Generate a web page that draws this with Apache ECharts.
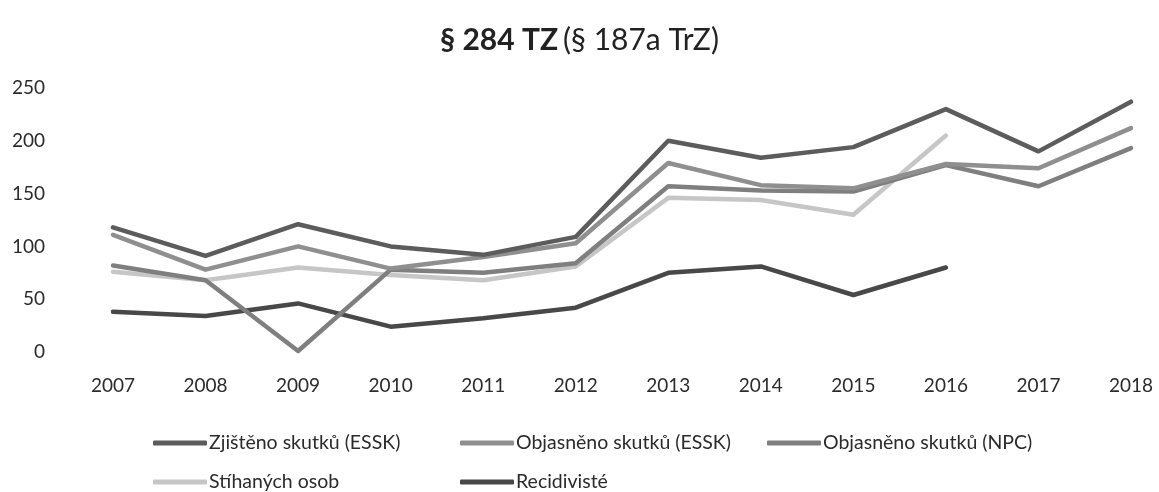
<!DOCTYPE html>
<html>
<head>
<meta charset="utf-8">
<title>§ 284 TZ</title>
<script src="https://cdn.jsdelivr.net/npm/echarts@6/dist/echarts.min.js"></script>
<style>
    html, body { margin: 0; padding: 0; background: #fff; }
    #chart { width: 1159px; height: 492px; }
</style>
</head>
<body>
<div id="chart"></div>
<script>
    // data
    var years = ['2007', '2008', '2009', '2010', '2011', '2012', '2013', '2014', '2015', '2016', '2017', '2018'];
    var zjistenoEssk = [118, 91, 121, 100, 92, 109, 200, 184, 194, 230, 190, 237];
    var objasnenoEssk = [111, 78, 100, 79, 90, 103, 179, 158, 155, 178, 174, 212];
    var objasnenoNpc = [82, 68, 1, 78, 75, 84, 157, 153, 152, 177, 157, 193];
    var stihanychOsob = [76, 68, 80, 73, 68, 81, 146, 144, 130, 205, '-', '-'];
    var recidiviste = [38, 34, 46, 24, 32, 42, 75, 81, 54, 80, '-', '-'];
    var yTicks = [0, 50, 100, 150, 200, 250];

    var names = ['Zjištěno skutků (ESSK)', 'Objasněno skutků (ESSK)', 'Objasněno skutků (NPC)', 'Stíhaných osob', 'Recidivisté'];
    var values = [zjistenoEssk, objasnenoEssk, objasnenoNpc, stihanychOsob, recidiviste];
    var colors = ['#5c5c5c', '#8f8f8f', '#7f7f7f', '#c6c6c6', '#484848'];

    var font = 'Lato, "Open Sans", sans-serif';

    // legend slots, laid out as a 3 + 2 grid like the original
    var legendPos = [[148, 428], [455, 428], [762, 428], [148, 467], [455, 467]];

    var chart = echarts.init(document.getElementById('chart'));

    var series = [], legends = [];
    for (var i = 0; i < names.length; i++) {
        series.push({
            name: names[i],
            type: 'line',
            data: values[i],
            symbol: 'none',
            smooth: false,
            z: 10 - i,
            lineStyle: { color: colors[i], width: 4.5, cap: 'round', join: 'round' },
            itemStyle: { color: colors[i] }
        });
        legends.push({
            data: [names[i]],
            left: legendPos[i][0],
            top: legendPos[i][1],
            icon: 'roundRect',
            itemWidth: 54,
            itemHeight: 5,
            selectedMode: false,
            textStyle: { fontFamily: font, fontSize: 19.5, color: '#2b2b2b', padding: [0, 0, 0, -3] }
        });
    }

    chart.setOption({
        animation: false,
        backgroundColor: '#fff',
        title: {
            text: '{b|§ 284 TZ} {n|(§ 187a TrZ)}',
            left: 'center',
            top: 20,
            textStyle: {
                rich: {
                    b: { fontFamily: font, fontSize: 30, fontWeight: 'bold', color: '#222' },
                    n: { fontFamily: font, fontSize: 30, fontWeight: 'normal', color: '#222' }
                }
            }
        },
        legend: legends,
        grid: { left: 113, right: 28, top: 88, bottom: 140 },
        xAxis: {
            type: 'category',
            data: years,
            boundaryGap: false,
            axisLine: { show: false },
            axisTick: { show: false },
            axisLabel: { fontFamily: font, fontSize: 19, color: '#2b2b2b', margin: 24 }
        },
        yAxis: {
            type: 'value',
            min: yTicks[0],
            max: yTicks[yTicks.length - 1],
            interval: 50,
            splitLine: { show: false },
            axisLine: { show: false },
            axisTick: { show: false },
            axisLabel: { fontFamily: font, fontSize: 19, color: '#2b2b2b', margin: 68 }
        },
        series: series
    });
</script>
</body>
</html>
